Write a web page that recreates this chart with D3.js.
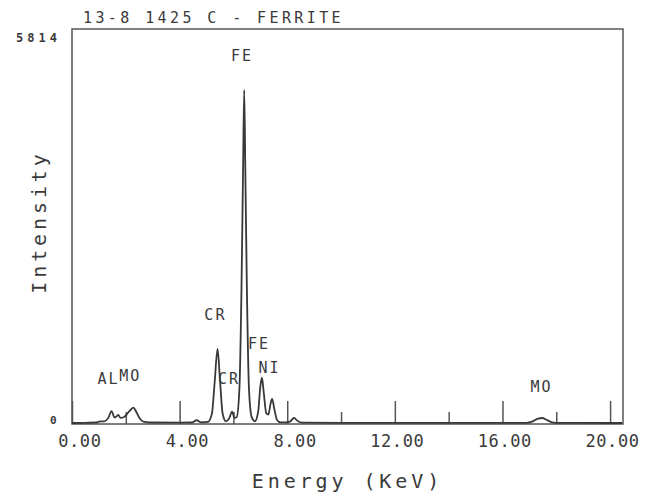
<!DOCTYPE html>
<html>
<head>
<meta charset="utf-8">
<script src="https://cdn.jsdelivr.net/npm/d3@7"></script>
<style>
  body { margin: 0; background: #fff; }
  text { font-family: "DejaVu Sans Mono", monospace; fill: #3a3a3a; }
</style>
</head>
<body>
<div id="chart-area"></div>
<script>

// Spectrum points (keV, counts)
var energy = [0.00, 0.50, 0.90, 1.00, 1.20, 1.35, 1.47, 1.58, 1.65, 1.72, 1.80, 1.92, 2.05, 2.18, 2.28, 2.40, 2.52, 2.65, 3.00,
  4.00, 4.45, 4.63, 4.80, 5.05, 5.20, 5.30, 5.41, 5.50, 5.60, 5.72, 5.85, 5.95, 6.04, 6.12, 6.22, 6.30, 6.36, 6.40, 6.44,
  6.50, 6.58, 6.68, 6.80, 6.92, 7.00, 7.06, 7.13, 7.22, 7.30, 7.38, 7.44, 7.52, 7.62, 7.75, 7.95, 8.10, 8.25, 8.40, 8.55,
  10.00, 12.00, 14.00, 16.00, 16.90, 17.10, 17.30, 17.48, 17.65, 17.85, 18.10, 20.00, 20.45];
var counts = [15, 18, 22, 35, 40, 90, 190, 95, 110, 135, 90, 100, 150, 210, 240, 170, 80, 35, 22,
  20, 22, 55, 25, 30, 150, 600, 1104, 650, 150, 40, 90, 181, 90, 100, 500, 2000, 3800, 4917, 3800,
  2000, 500, 100, 40, 180, 550, 681, 450, 160, 140, 300, 368, 220, 60, 25, 25, 35, 88, 40, 20,
  18, 17, 16, 16, 18, 35, 75, 88, 60, 25, 16, 15, 15];

// peak labels (name, energy, label height in counts)
var peakNames = ["AL", "MO", "CR", "CR", "FE", "FE", "NI", "MO"];
var peakEnergy = [1.36, 2.17, 5.33, 5.84, 6.32, 6.95, 7.34, 17.45];
var peakLabelCount = [589, 633, 1531, 589, 5343, 1104, 751, 471];

var majorTicks = [0, 4, 8, 12, 16, 20];
var minorTicks = [2, 6, 10, 14, 18];
var yMax = 5814;
var title = "13-8 1425 C - FERRITE";

// SVG drawing area
var margin = {top: 29, right: 31, bottom: 68, left: 72};

var width = 654 - margin.left - margin.right,
    height = 492 - margin.top - margin.bottom;

var svg = d3.select("#chart-area").append("svg")
    .attr("width", width + margin.left + margin.right)
    .attr("height", height + margin.top + margin.bottom)
  .append("g")
    .attr("transform", "translate(" + margin.left + "," + margin.top + ")");

// Scales
var x = d3.scaleLinear()
    .domain([0, 20.48])
    .range([0, width]);

var y = d3.scaleLinear()
    .domain([0, yMax])
    .range([height, 0]);

var spectrum = energy.map(function(e, i) { return {e: e, c: counts[i]}; });

// frame
svg.append("rect")
    .attr("width", width)
    .attr("height", height)
    .attr("fill", "none")
    .attr("stroke", "#555")
    .attr("stroke-width", 1.5);

// ticks point inwards, long ones every 4 keV
var majorAxis = d3.axisBottom(x)
    .tickValues(majorTicks)
    .tickSizeInner(-23)
    .tickSizeOuter(0)
    .tickFormat(d3.format(".2f"));

var minorAxis = d3.axisBottom(x)
    .tickValues(minorTicks)
    .tickSizeInner(-12)
    .tickSizeOuter(0)
    .tickFormat("");

svg.append("g")
    .attr("class", "x-axis minor")
    .attr("transform", "translate(0," + height + ")")
    .call(minorAxis);

var xAxisGroup = svg.append("g")
    .attr("class", "x-axis")
    .attr("transform", "translate(0," + height + ")")
    .call(majorAxis);

svg.selectAll(".x-axis .domain").remove();
svg.selectAll(".x-axis line")
    .attr("stroke", "#555")
    .attr("stroke-width", 1.5);

xAxisGroup.selectAll("text")
    .attr("text-anchor", "end")
    .attr("x", 29)
    .attr("y", 23)
    .attr("dy", 0)
    .attr("fill", "#3a3a3a")
    .style("font-family", "'DejaVu Sans Mono', monospace")
    .style("font-size", "17px")
    .style("letter-spacing", "0.6px");

// spectrum line
var line = d3.line()
    .x(function(d) { return x(d.e); })
    .y(function(d) { return y(d.c); })
    .curve(d3.curveMonotoneX);

svg.append("path")
    .datum(spectrum)
    .attr("fill", "none")
    .attr("stroke", "#383838")
    .attr("stroke-width", 1.8)
    .attr("stroke-linejoin", "round")
    .attr("d", line);

// peak labels
svg.selectAll(".peak")
    .data(peakNames)
  .enter().append("text")
    .attr("class", "peak")
    .attr("x", function(d, i) { return x(peakEnergy[i]); })
    .attr("y", function(d, i) { return y(peakLabelCount[i]); })
    .attr("text-anchor", "middle")
    .style("font-size", "15px")
    .style("letter-spacing", "2px")
    .text(function(d) { return d; });

// y extent labels
svg.append("text")
    .attr("x", 16 - margin.left)
    .attr("y", y(yMax) + 12.5)
    .style("font-size", "12px")
    .style("font-weight", "bold")
    .style("letter-spacing", "4px")
    .text(yMax);

svg.append("text")
    .attr("x", 50 - margin.left)
    .attr("y", y(0))
    .style("font-size", "11px")
    .style("font-weight", "bold")
    .text("0");

// title and axis names
svg.append("text")
    .attr("x", 83 - margin.left)
    .attr("y", 22.5 - margin.top)
    .style("font-size", "15px")
    .style("letter-spacing", "3.4px")
    .text(title);

svg.append("text")
    .attr("x", width / 2)
    .attr("y", 488 - margin.top)
    .attr("text-anchor", "middle")
    .style("font-size", "20px")
    .style("letter-spacing", "3.9px")
    .text("Energy (KeV)");

svg.append("text")
    .attr("transform", "translate(" + (45.5 - margin.left) + "," + (222 - margin.top) + ") rotate(-90)")
    .attr("text-anchor", "middle")
    .style("font-size", "20px")
    .style("letter-spacing", "3.9px")
    .text("Intensity");

</script>
</body>
</html>
